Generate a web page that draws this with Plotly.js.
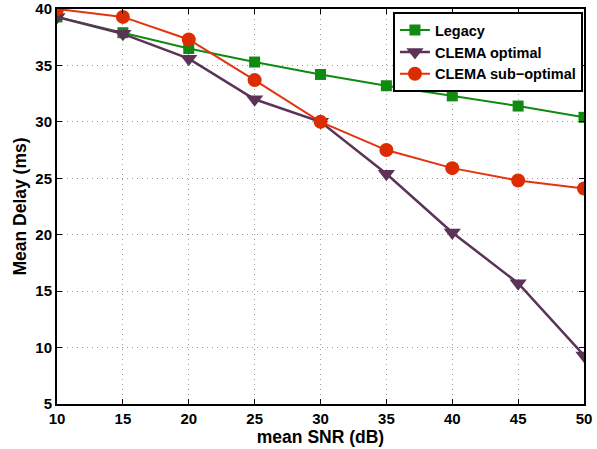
<!DOCTYPE html>
<html><head><meta charset="utf-8">
<script src="https://cdn.plot.ly/plotly-3.0.1.min.js"></script>
<style>html,body{margin:0;padding:0;background:#fff}#chart{width:597px;height:449px}</style>
</head><body><div id="chart"></div>
<script>
const snr = [10, 15, 20, 25, 30, 35, 40, 45, 50];
const legacy = [39.3, 37.9, 36.5, 35.3, 34.2, 33.2, 32.3, 31.4, 30.4];
const clemaOptimal = [39.3, 37.8, 35.6, 32.0, 30.0, 25.4, 20.2, 15.7, 9.3];
const clemaSubOptimal = [40.0, 39.3, 37.3, 33.7, 30.0, 27.5, 25.9, 24.8, 24.1];
const xTicks = [10, 15, 20, 25, 30, 35, 40, 45, 50];
const yTicks = [5, 10, 15, 20, 25, 30, 35, 40];

const fam = 'Liberation Sans, Arial, sans-serif';
const tickFont = {family: fam, size: 15, color: '#000', weight: 'bold'};
const titleFont = {family: fam, size: 17.5, color: '#000', weight: 'bold'};
const traces = [
  {x: snr, y: legacy, name: 'Legacy', mode: 'lines+markers',
   line: {color: '#108a10', width: 2}, marker: {symbol: 'square', size: 11, color: '#108a10'}},
  {x: snr, y: clemaOptimal, name: 'CLEMA optimal', mode: 'lines+markers',
   line: {color: '#5a3357', width: 2.5}, marker: {symbol: 'triangle-down', size: 15, color: '#5a3357'}},
  {x: snr, y: clemaSubOptimal, name: 'CLEMA sub\u2212optimal', mode: 'lines+markers',
   line: {color: '#e2330f', width: 2}, marker: {symbol: 'circle', size: 14, color: '#dd2c02'}}
];
const axisCommon = {
  showline: true, linecolor: '#000', linewidth: 2, mirror: 'ticks',
  ticks: 'inside', ticklen: 5, tickwidth: 1, tickcolor: '#000',
  showgrid: true, gridcolor: '#9a9a9a', griddash: '1px,4px', gridwidth: 1,
  zeroline: false, tickfont: tickFont, ticklabeloverflow: 'allow'
};
const layout = {
  width: 597, height: 449,
  margin: {l: 57, r: 13, t: 9, b: 45},
  paper_bgcolor: '#fff', plot_bgcolor: '#fff',
  showlegend: true,
  legend: {x: 0.998, y: 0.992, xanchor: 'right', yanchor: 'top',
    bgcolor: '#fff', bordercolor: '#000', borderwidth: 2,
    font: {family: fam, size: 14.5, color: '#000', weight: 'bold'},
    tracegroupgap: 0},
  xaxis: Object.assign({}, axisCommon, {range: [10, 50], tickvals: xTicks,
    title: {text: 'mean SNR (dB)', font: titleFont, standoff: 2}}),
  yaxis: Object.assign({}, axisCommon, {range: [5, 40], tickvals: yTicks,
    title: {text: 'Mean Delay (ms)', font: titleFont, standoff: 4}})
};
Plotly.newPlot('chart', traces, layout, {displayModeBar: false, staticPlot: true});
</script></body></html>
